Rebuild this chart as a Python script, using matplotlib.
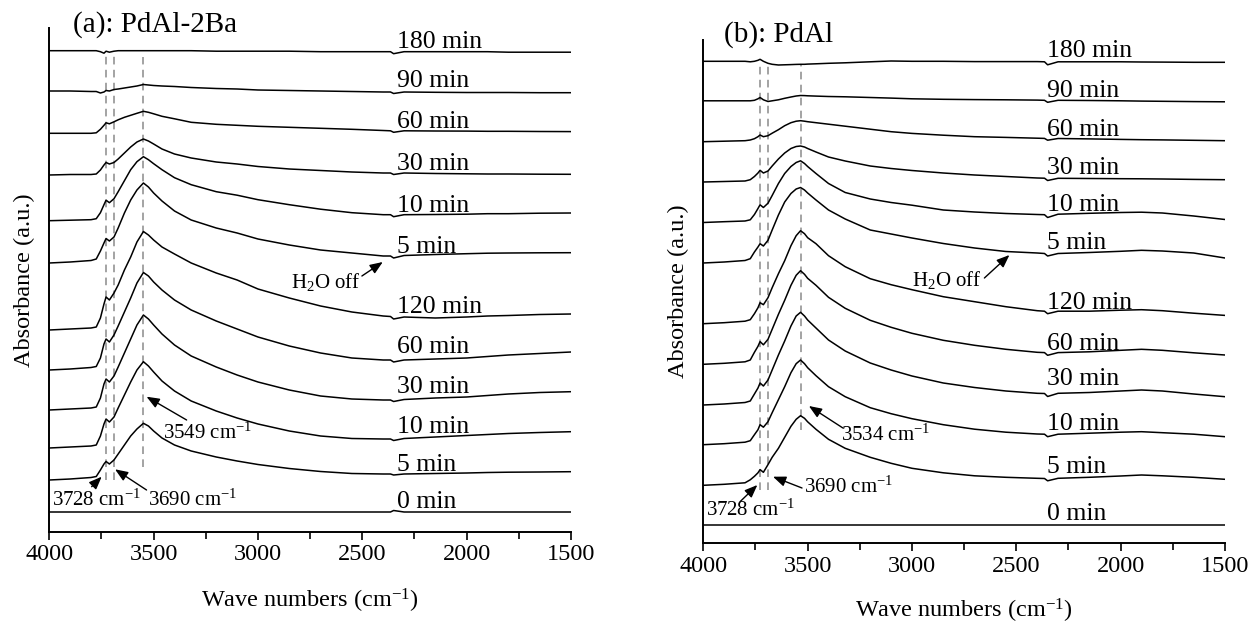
import matplotlib
matplotlib.use("Agg")
import matplotlib.pyplot as plt
from matplotlib.ticker import MultipleLocator

plt.rcParams['font.family'] = ['Liberation Serif', 'DejaVu Serif']
plt.rcParams['mathtext.fontset'] = 'custom'
plt.rcParams['mathtext.rm'] = 'Liberation Serif'
plt.rcParams['mathtext.it'] = 'Liberation Serif:italic'
plt.rcParams['mathtext.bf'] = 'Liberation Serif:bold'

# ---------------- data ----------------
LABELS = ["180 min", "90 min", "60 min", "30 min", "10 min", "5 min",
          "120 min", "60 min", "30 min", "10 min", "5 min", "0 min"]

WN_A = [4000, 3900, 3800, 3775, 3755, 3738, 3728, 3712, 3690, 3670, 3640, 3610,
        3580, 3549, 3525, 3500, 3460, 3400, 3320, 3200, 3100, 3000, 2850, 2700,
        2550, 2400, 2365, 2350, 2300, 2150, 2000, 1900, 1800, 1650, 1500]

A_180 = [0, 0, 0, 0, -1, -2.5, -0.5, -1.5, -0.5, 0, 0, 0, 0, 0, 0, 0, 0, 0, 0, -0.5,
         -0.5, -0.5, -0.5, -1, -1, -1, -1, -3, -1, -1, -1, -1, -1.5, -1.5, -1.5]
A_90 = [0, 0, -0.5, -0.5, -2, -1, 0.5, 0, 1.5, 2, 3, 4, 5, 6.5, 6, 5.5, 5, 4.5, 3.5, 2.5,
        2, 1, 0.5, 0, -0.5, -1, -1, -2.5, -1, -1.3, -1.5, -1.5, -1.5, -1.7, -1.7]
A_60 = [0, 0, 0, 0.5, 4, 8, 10.5, 9.5, 11.5, 13.5, 16, 18, 20, 22, 21, 19.5, 17, 14.5, 11, 9,
        8, 7, 6, 5, 4, 2.8, 2.5, 1, 2.5, 2.3, 2.2, 2, 2, 1.8, 1.7]
A_30 = [0, 0.5, 0.5, 1, 5, 10, 12.5, 11, 12.5, 16, 22, 28, 33, 36, 34, 31, 26, 21, 17, 13,
        11, 8.5, 6, 4.5, 3, 2, 2, 0.5, 2, 1.5, 1.2, 1, 1, 0.8, 0.7]
A_10 = [0, 0.5, 1, 2, 8, 16, 20.5, 18, 22, 29, 40, 51, 59, 64, 61, 57, 51, 43, 36, 29,
        25.5, 21, 16, 11.5, 8, 6, 6, 4, 6, 6.2, 6.5, 7, 7, 7.5, 7.7]
A_5 = [0, 1, 2.5, 4, 12, 20, 24.5, 22, 26, 35, 50, 63, 73, 80, 76, 70, 62, 52, 43, 35,
       30, 24, 18, 13, 10, 7, 7, 5, 7.5, 8.5, 9.3, 9.8, 10, 10.2, 10.3]
A_120 = [0, 1, 2, 3, 12, 26, 33, 30, 37, 45, 60, 73, 88, 98.5, 95, 90, 83, 76, 67, 57,
         50, 41, 32, 24, 18, 14, 13.5, 11, 13, 12, 13, 14, 14.5, 15.5, 16]
A_60B = [0, 1, 2.5, 3.5, 12, 26, 31, 28, 35, 44, 58, 72, 87, 97.5, 94, 88, 80, 70, 60, 49,
         41, 33, 24, 17, 12, 10, 10, 8, 10, 11, 12, 13.5, 15, 16.5, 18]
A_30B = [0, 1, 2, 3, 12, 26, 31, 28, 34, 43, 57, 71, 85, 95, 91, 85, 76, 65, 54, 43,
         35, 28, 20, 14, 11, 10, 10, 8.5, 10.5, 12, 13, 14.5, 16, 17.5, 18.3]
A_10B = [0, 1, 2, 3, 12, 24, 29, 26, 31, 40, 53, 66, 78, 86.3, 82, 76, 67, 57, 47, 37,
         30, 24, 17, 12, 9.5, 9, 9, 7.5, 9.5, 11, 12.5, 13.5, 14.5, 15.5, 16.3]
A_5B = [0, 1, 2.5, 3.5, 10, 16, 18.5, 16, 20, 26, 35, 44, 51, 56.7, 54, 49, 42, 35, 29, 23,
        19, 15.5, 11.5, 8.5, 6.5, 6, 6, 5, 6, 6.5, 7, 7.5, 7.8, 8, 8.3]
A_0 = [0, 0, 0, 0, 0, 0, 0, 0, 0, 0, 0, 0, 0, 0, 0, 0, 0, 0, 0, 0,
       0, 0, 0, 0, 0, 0, 0, 1.5, 0, 0, 0, 0, 0, 0, 0]

WN_B = [4000, 3900, 3800, 3775, 3755, 3738, 3728, 3712, 3690, 3670, 3640, 3610,
        3580, 3555, 3534, 3515, 3500, 3460, 3400, 3320, 3200, 3100, 3000, 2850,
        2700, 2550, 2400, 2365, 2350, 2300, 2150, 2000, 1900, 1800, 1650, 1500]

B_180 = [0, 0, 0, -0.5, 0, 1, 2, 0, -2, -3, -3.7, -3.5, -3.3, -3.1, -3, -3, -2.8, -2.5,
         -2, -1.5, -0.5, 0.3, 0, 0, -0.3, -0.3, -0.3, -0.5, -3.5, -0.5, -0.5, -0.5, -0.7,
         -0.8, -1, -1]
B_90 = [0, 0, 0, 0, 0.5, 2, 3.3, 1, -0.7, 0, 1, 2.5, 3.8, 4.8, 5.3, 5.2, 5, 4.7, 4.3, 4,
        3.3, 2.7, 2, 1.5, 1.2, 1, 0.7, 0.5, -1.5, 0.5, 0.3, 0, -0.3, -0.5, -0.8, -1]
B_60 = [0, 0.5, 1, 1.7, 3, 5, 6.7, 5, 6, 8.5, 12, 16, 19, 20.5, 21, 20.5, 20, 19, 17.5,
        15.5, 12.5, 10, 8.3, 6.5, 5, 4.3, 3.5, 3.3, 1.5, 3.2, 2.8, 2.3, 2, 1.8, 1.4, 1]
B_30 = [0, 0.5, 1, 2.3, 5.5, 9, 11.7, 9, 11, 16, 23, 29, 33.5, 35.5, 36, 35, 33.5, 30, 25,
        21, 16, 13.5, 11.5, 9, 7, 5.5, 4, 3.8, 1.5, 3.7, 3.5, 3.3, 3.2, 3, 2.6, 2.3]
B_10 = [0, 0.8, 1.5, 2.7, 8, 14, 17.7, 15, 19.3, 27, 39, 49, 56, 60, 61.7, 59, 56, 49, 39,
        30, 23.5, 20, 17.3, 12.5, 10.5, 9, 8, 7.8, 5, 8.3, 9.2, 10, 10.3, 9.5, 6.5, 3]
B_5 = [0, 1, 2.5, 4.3, 11, 16, 19.3, 17, 22.7, 33, 48, 61, 69.5, 74, 75.5, 73, 70, 63, 53,
       44, 33, 29, 25, 19.5, 15, 11.5, 10, 9.5, 7, 9.5, 10.5, 11.7, 12.7, 12, 10, 5]
B_120 = [0, 1, 2.5, 4, 10, 16, 21, 19, 26, 36, 50, 63, 78, 88, 93, 90, 86, 80, 68, 57,
         45, 39, 34, 27, 22, 17, 13, 12.5, 10, 12.5, 12.5, 13.5, 14, 13, 10.5, 8.3]
B_60B = [0, 1, 2.5, 4.3, 12, 18, 22.7, 19.5, 25, 35, 50, 64, 79, 89, 93.6, 90, 86, 79, 67,
         56, 44, 37, 31, 24, 19, 15, 12, 11.7, 9, 11.7, 12.5, 14, 15, 14, 11.5, 9.3]
B_30B = [0, 1, 2.5, 4, 11, 17, 22, 19, 25, 35, 50, 64, 79, 89, 92.7, 89, 85, 77, 65, 54,
         42, 35, 29, 22, 17.5, 14, 11.7, 11.5, 8.5, 11.7, 12.5, 14, 15, 14, 11, 8.3]
B_10B = [0, 1, 2.5, 4, 10, 15, 20, 17.5, 23, 32, 45, 58, 72, 81, 84.7, 81, 77, 69, 58, 48,
         37, 31, 26, 20, 15.5, 12.5, 10.7, 10.5, 8, 10.5, 11.5, 12.5, 13, 12, 10.5, 8]
B_5B = [0, 1, 2.5, 5.5, 9, 12.5, 15.7, 13, 20.7, 28, 37, 48, 59, 66, 69.6, 67, 63.5, 56,
        46, 37, 28, 22, 17, 12.5, 9.5, 8, 7, 6.8, 4.5, 7, 8, 9.3, 10.3, 9.5, 8, 6]
B_0 = [0] * 36

SPEC_A = [A_180, A_90, A_60, A_30, A_10, A_5, A_120, A_60B, A_30B, A_10B, A_5B, A_0]
SPEC_B = [B_180, B_90, B_60, B_30, B_10, B_5, B_120, B_60B, B_30B, B_10B, B_5B, B_0]

# ---------------- layout (stack offsets, label heights) ----------------
OFF_A = [481.3, 441, 398.7, 357, 311.3, 269, 202, 162, 122, 84, 52, 20]
OFF_B = [481.7, 442.2, 401.3, 361, 320.5, 280, 219.3, 178.7, 138, 98.3, 57.7, 18.3]
LAB_Y_A = [484.3, 444.7, 403.7, 362, 320.3, 278.7, 218.7, 178.7, 138.7, 98.7, 61.3, 23.7]
LAB_Y_B = [486.3, 445.7, 407, 369, 332.3, 293.7, 233.7, 193, 158, 113, 69.7, 23]

W, H = 1252, 624
fig = plt.figure(figsize=(W / 100, H / 100), dpi=100)

def px_axes(x0, x1, ytop, ybot):
    return fig.add_axes([x0 / W, (H - ybot) / H, (x1 - x0) / W, (ybot - ytop) / H])

axA = px_axes(49.3, 571.0, 28, 532)
axB = px_axes(703.3, 1225.0, 40, 543)

def style(ax, ytop):
    ax.set_xlim(4000, 1500)
    ax.set_ylim(0, ytop)
    for s in ("top", "right"):
        ax.spines[s].set_visible(False)
    for s in ("left", "bottom"):
        ax.spines[s].set_linewidth(1.4)
    ax.set_yticks([])
    ax.xaxis.set_major_locator(MultipleLocator(500))
    ax.xaxis.set_minor_locator(MultipleLocator(250))
    ax.tick_params(axis="x", which="major", direction="out", length=6, width=1.2,
                   labelsize=17.5, pad=3)
    ax.tick_params(axis="x", which="minor", direction="out", length=5, width=1.2)

style(axA, 504)
style(axB, 503)

dash_kw = dict(color="#8a8a8a", lw=1.1, dashes=(5, 3.5), zorder=1)
axA.plot([3728, 3728], [52, 480.3], **dash_kw)
axA.plot([3690, 3690], [52, 480.3], **dash_kw)
axA.plot([3549, 3549], [65.3, 475.3], **dash_kw)
axB.plot([3728, 3728], [53, 478], **dash_kw)
axB.plot([3690, 3690], [53, 478], **dash_kw)
axB.plot([3534, 3534], [113, 478], **dash_kw)

for ax, wn, specs, offs, laby, labx in (
        (axA, WN_A, SPEC_A, OFF_A, LAB_Y_A, 2335),
        (axB, WN_B, SPEC_B, OFF_B, LAB_Y_B, 2355)):
    for sp, off, ly, lab in zip(specs, offs, laby, LABELS):
        ax.plot(wn, [v + off for v in sp], color="black", lw=1.1, zorder=2)
        ax.text(labx, ly, lab, fontsize=18.5, ha="left", va="baseline", zorder=3)

arrow_kw = dict(arrowstyle="-|>,head_length=0.55,head_width=0.22", color="black",
                lw=1.0, shrinkA=0, shrinkB=0, mutation_scale=14)

def note(ax, text, txy, tail, tip, size=15):
    ax.text(txy[0], txy[1], text, fontsize=size, ha="left", va="center", zorder=4)
    ax.annotate("", xy=tip, xytext=tail, arrowprops=arrow_kw, zorder=4)

# panel (a)
note(axA, "H$_2$O off", (2840, 250), (2502, 256), (2402, 270))
note(axA, "3549 cm$^{-1}$", (3456, 99), (3342, 112), (3534, 135.3))
note(axA, "3728 cm$^{-1}$", (3988, 32), (3797, 45.3), (3749, 55.3))
note(axA, "3690 cm$^{-1}$", (3529, 32), (3534, 42), (3685, 62.7))
# panel (b)
note(axB, "H$_2$O off", (3001, 263), (2653, 265), (2533, 288))
note(axB, "3534 cm$^{-1}$", (3340, 108), (3331, 115), (3494, 137))
note(axB, "3690 cm$^{-1}$", (3518, 56), (3527, 55), (3666, 66.3))
note(axB, "3728 cm$^{-1}$", (3985, 33), (3824, 41.3), (3741, 58))

# titles and axis labels (figure pixel positions)
def ftext(x, y, s, **kw):
    fig.text(x / W, 1 - y / H, s, **kw)

ftext(73, 31.7, "(a): PdAl-2Ba", fontsize=21, ha="left", va="baseline")
ftext(724, 41.7, "(b): PdAl", fontsize=21, ha="left", va="baseline")
ftext(310, 608, "Wave numbers (cm$^{-1}$)", fontsize=17.5, ha="center", va="baseline")
ftext(964, 618, "Wave numbers (cm$^{-1}$)", fontsize=17.5, ha="center", va="baseline")
ftext(24, 280, "Absorbance (a.u.)", fontsize=17.5, ha="center", va="center", rotation=90)
ftext(678, 291, "Absorbance (a.u.)", fontsize=17.5, ha="center", va="center", rotation=90)

fig.savefig("out.png", dpi=100)
